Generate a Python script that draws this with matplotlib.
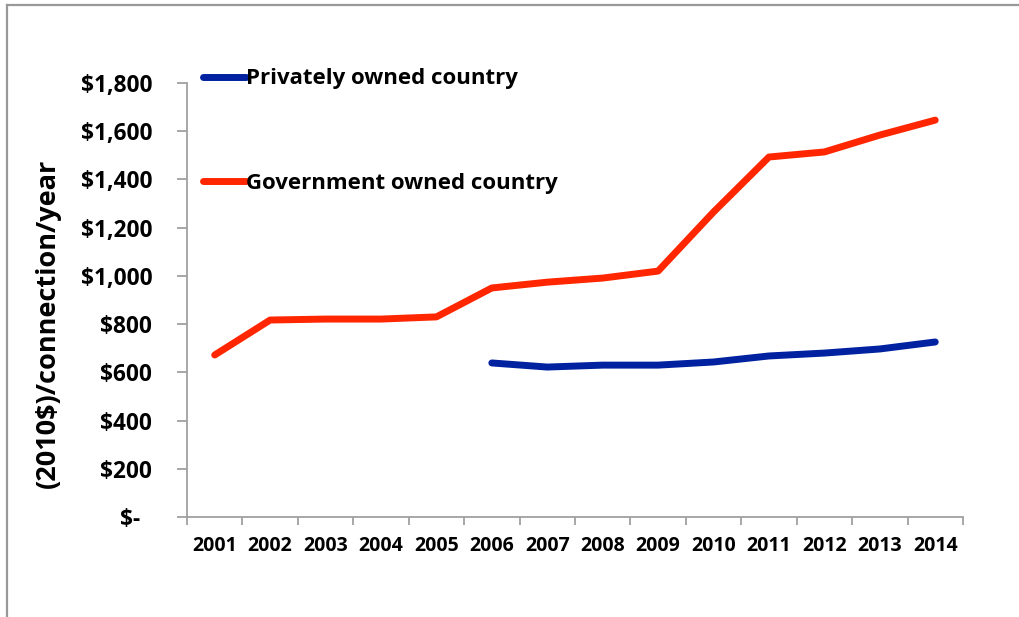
import matplotlib.pyplot as plt
import matplotlib.ticker as mticker
from matplotlib.lines import Line2D
import numpy as np

years = ['2001', '2002', '2003', '2004', '2005', '2006', '2007',
         '2008', '2009', '2010', '2011', '2012', '2013', '2014']
government = [672, 817, 821, 821, 830, 950, 974, 991, 1020, 1265, 1493, 1514, 1584, 1646]
private_years = years[5:]
private = [639, 622, 630, 630, 643, 668, 680, 697, 726]

plt.rcParams['font.family'] = ['Open Sans', 'DejaVu Sans']
plt.rcParams['font.weight'] = 'bold'

fig = plt.figure(figsize=(10.19, 6.17), dpi=100)
ax = fig.add_axes([0.1835, 0.162, 0.7615, 0.7035])

x_gov = np.arange(len(years))
x_priv = np.array([years.index(y) for y in private_years])

ax.plot(x_priv, private, color='#0021A0', lw=5, solid_capstyle='round',
        solid_joinstyle='round', label='Privately owned country')
ax.plot(x_gov, government, color='#FF2600', lw=5, solid_capstyle='round',
        solid_joinstyle='round', label='Government owned country')

ax.set_xlim(-0.5, len(years) - 0.5)
ax.set_ylim(0, 1800)

# category boundaries get the tick marks, labels sit in between
ax.set_xticks(np.arange(-0.5, len(years)), labels=[])
ax.set_xticks(x_gov, labels=years, minor=True)
ax.tick_params(axis='x', which='major', length=6, width=1.3, color='#A0A0A0')
ax.tick_params(axis='x', which='minor', length=0, pad=14, labelsize=14)

ax.set_yticks(np.arange(0, 1801, 200))
ax.yaxis.set_major_formatter(mticker.FuncFormatter(
    lambda v, p: '$-  ' if v == 0 else '${:,.0f}'.format(v)))
ax.tick_params(axis='y', length=7, width=1.3, color='#A0A0A0', pad=18, labelsize=16.3)

for side in ['top', 'right']:
    ax.spines[side].set_visible(False)
for side in ['left', 'bottom']:
    ax.spines[side].set_color('#A0A0A0')
    ax.spines[side].set_linewidth(1.3)

ax.set_ylabel('(2010$)/connection/year', fontsize=19.5, fontweight='bold')
ax.yaxis.set_label_coords(-0.162, 0.447)

ax.legend(loc='upper left', bbox_to_anchor=(0.009, 1.054), frameon=False,
          fontsize=16, handlelength=1.95, handletextpad=0.0,
          labelspacing=3.77, borderaxespad=0)

# outer chart frame (top and left edges only)
fig.add_artist(Line2D([0.0069, 1.0], [0.9919, 0.9919], color='#999999', lw=1.6))
fig.add_artist(Line2D([0.0069, 0.0069], [0.0, 0.9919], color='#999999', lw=1.6))

fig.savefig('out.png', dpi=100, facecolor='white')
